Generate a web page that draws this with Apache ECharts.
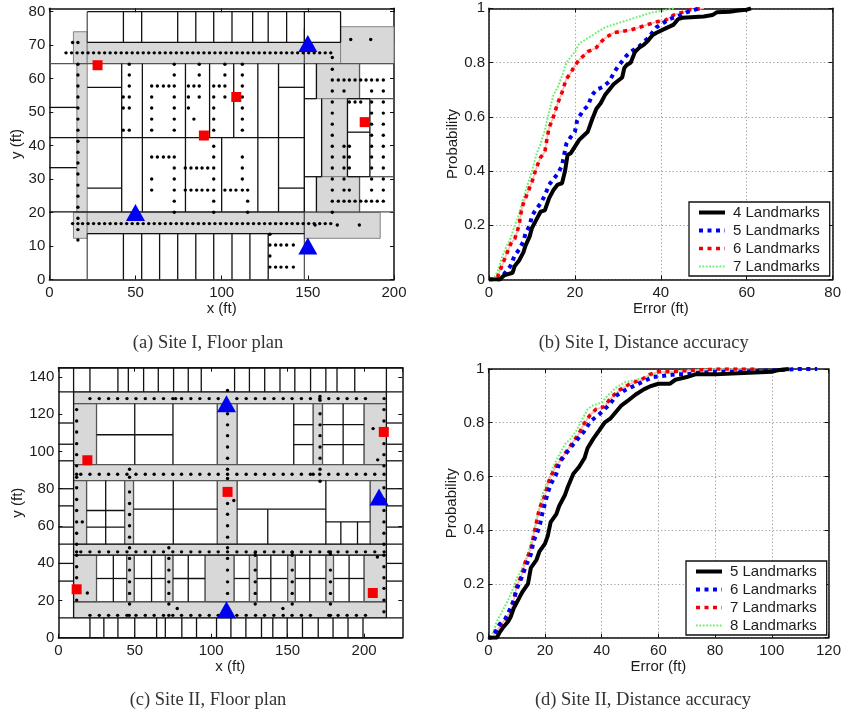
<!DOCTYPE html>
<html><head><meta charset="utf-8">
<style>html,body{margin:0;padding:0;background:#fff}#c{width:844px;height:710px}</style>
<script src="https://cdn.jsdelivr.net/npm/echarts@6/dist/echarts.min.js"></script>
</head><body><div id="c"></div>
<script>
// ---------- CDF curves, [error ft, probability]
const siteI_4 = [[0,0],[2.5,0],[3.5,.015],[5.5,.025],[6,.05],[7,.07],[8,.1],[8.5,.125],[9.5,.16],[10,.19],[11,.22],[12,.25],[13,.255],[14,.3],[15,.33],[16,.35],[17,.355],[17.7,.4],[18.3,.46],[19,.465],[20,.49],[21,.515],[22,.53],[23,.545],[24,.59],[25,.63],[26,.65],[27,.68],[28,.7],[29,.72],[31,.745],[31.5,.78],[32,.79],[33,.8],[34,.84],[35,.855],[36,.865],[37,.88],[38,.9],[39,.91],[41,.925],[43,.94],[44,.96],[45,.965],[47,.967],[50,.97],[52,.975],[53,.985],[56,.987],[58,.992],[60,.995],[61,1]];
const siteI_5 = [[0,0],[2.5,0],[4,.03],[5,.05],[6,.09],[7,.11],[8,.14],[8.5,.17],[9.5,.2],[10,.235],[11,.26],[12,.28],[13,.31],[14,.35],[15,.37],[16,.39],[17,.42],[17.5,.46],[18,.5],[19,.525],[20,.545],[20.5,.585],[21,.6],[22,.625],[23,.64],[24,.68],[25,.7],[26.5,.71],[28,.73],[29,.76],[30,.785],[31,.805],[32,.825],[33,.84],[35,.86],[36,.875],[37,.89],[38,.91],[39,.93],[40,.94],[41,.95],[42,.96],[44,.97],[46,.985],[48,.995],[49,1]];
const siteI_6 = [[0,0],[1,0],[2,.01],[3,.05],[4,.09],[5,.13],[6,.15],[7,.2],[7.5,.25],[8,.28],[9,.32],[10,.36],[11,.41],[12,.45],[13,.47],[13.5,.52],[14,.56],[15,.6],[16,.65],[17,.69],[18,.74],[19,.76],[20,.79],[21,.81],[22,.825],[23,.84],[25,.855],[26,.875],[27,.89],[29,.91],[31,.915],[33,.92],[35,.93],[37,.94],[39,.95],[41,.955],[43,.975],[45,.985],[47,.995],[50,1]];
const siteI_7 = [[0,0],[1,0],[2,.03],[3,.08],[4,.12],[5,.15],[6,.2],[7,.24],[8,.3],[9,.35],[10,.4],[11,.46],[12,.5],[13,.55],[14,.62],[15,.68],[16,.71],[17,.75],[18,.8],[19,.82],[20,.84],[21,.87],[22,.88],[23,.89],[25,.91],[27,.93],[30,.945],[33,.96],[35,.97],[38,.985],[40,.99],[43,1]];
const siteII_5 = [[0,0],[3,0],[4,.02],[5,.035],[7,.06],[8,.08],[9,.11],[10,.13],[11,.15],[12,.17],[14,.2],[15,.26],[17,.29],[18,.32],[20,.35],[21,.38],[22,.43],[24,.46],[25,.49],[27,.53],[28,.56],[30,.61],[32,.635],[34,.67],[35,.705],[37,.74],[39,.77],[41,.8],[43,.815],[45,.84],[47,.865],[49,.88],[52,.905],[55,.925],[57,.935],[60,.945],[64,.945],[66,.96],[70,.97],[73,.98],[80,.98],[90,.985],[100,.99],[102,.995],[106,1]];
const siteII_6 = [[0,0],[1,0],[3,.03],[4,.05],[6,.07],[7,.09],[9,.14],[10,.18],[12,.23],[13,.26],[15,.31],[16,.36],[18,.41],[19,.46],[20,.5],[21,.54],[22,.57],[24,.61],[25,.65],[27,.68],[30,.72],[32,.745],[34,.77],[36,.805],[39,.83],[41,.85],[43,.87],[45,.9],[48,.92],[52,.94],[55,.955],[58,.97],[62,.975],[66,.98],[70,.98],[73,.985],[80,.99],[90,.99],[100,.995],[110,1],[116,1]];
const siteII_7 = [[0,0],[1,0],[2,.01],[4,.04],[6,.07],[8,.1],[9,.14],[10,.19],[12,.24],[13,.28],[15,.33],[16,.38],[17,.43],[18,.48],[20,.53],[21,.57],[22,.6],[24,.64],[26,.67],[28,.7],[30,.73],[32,.76],[34,.8],[36,.83],[38,.85],[41,.86],[43,.89],[46,.92],[50,.945],[54,.96],[57,.98],[60,.99],[65,.99],[72,.995],[80,1],[95,1]];
const siteII_8 = [[0,0],[1,0],[2,.03],[3,.06],[4,.08],[5,.1],[6,.12],[7,.14],[9,.19],[10,.22],[12,.26],[14,.31],[16,.39],[17,.44],[18,.48],[19,.53],[21,.58],[23,.64],[25,.68],[27,.72],[29,.74],[31,.77],[33,.81],[35,.85],[37,.865],[40,.875],[42,.9],[45,.93],[48,.95],[52,.96],[56,.97],[60,.985],[70,.995],[80,1],[90,1]];

// ---------- Site I floor plan, in feet
const corridorsI = [[14,64.5,22,74],[16,20,22,64.5],[14,12.3,22,20],[22,64.5,149,70.8],[148,64.5,200,70.8],[169,64.5,200,75.5],[22,13.7,148,20],[148,12.3,192,20],[155,54,180,64.5],[158,30.7,173,54],[155,20,180,30.7]];
const wallsVI = [[70.8,80,43,53.6,74.5,85,95.4,106,118,127,137.7,148,169],[42.4,64.5,42,54,79,93,107,121,133,148],[20.2,42.4,42,54,79,100,121,133,148],[0,13.7,43,53.6,64,74.5,85,95.4,106,116.4,127],[54,64.5,155],[30.7,54,158,173,186],[20.2,30.7,155]];
const wallsHI = [[80,22,169],[70.8,22,169],[57.4,22,42],[57.4,133,148],[27.3,22,42],[27.3,133,148],[42.4,0,148],[51.4,0,16],[33.4,0,16],[20.2,0,148],[13.7,22,148],[54,148,155],[54,173,186],[30.7,148,158],[30.7,173,186],[44,173,186]];
const edgesVI = [[0,13.7,22,148],[70.8,80,22],[13.7,20,148],[54,64.5,148,180],[30.7,54,148],[20,30.7,148,180],[64.5,75,148]];
const edgesHI = [[64.5,0,200],[54,180,200],[30.7,186,200],[20.2,148,200]];
const dotRowsI = [
 [67.7,9.7,12.9,16.1,19.3,22.5,25.7,28.9,32.1,35.3,38.5,41.7,44.9,48.1,51.3,54.5,57.7,60.9,64.1,67.3,70.5,73.7,76.9,80.1,83.3,86.5,89.7,92.9,96.1,99.3,102.5,105.7,108.9,112.1,115.3,118.5,121.7,124.9,128.1,131.3,134.5,137.7,140.9,144.1,147.3,150.5,153.7,156.9,160.1,163.3],
 [70.8,13.5,16.6],[71.7,174.9,186.5],
 [66.3,164.2],[64.3,46.4,72.5,87,101.9,112],[62.8,164.2],
 [61.1,46.4,72.5,87,101.9,112],
 [59.6,164.2,167.7,171,174.1,177.4,180.7,183.8,187,190.3,193.8],
 [57.8,46.4,59.4,62.7,66.2,69.4,72.5,80.7,83.9,87,95.4,98.6,101.9,112],
 [56.3,164.2,171,187,193.8],
 [54.5,42.9,46.4,59.4,72.5,80.7,87,95.4,101.9,112],
 [53,164.2,174.1,177.4,180.7,187,193.8],
 [51.2,42.9,46.4,59.4,72.5,80.7,95.4,112],
 [49.7,164.2,187,193.8],
 [47.9,59.4,72.5,83.9,95.4,112],
 [46.4,164.2,187,193.8],
 [44.6,42.9,46.4,59.4,72.5,95.4,112],
 [43.1,164.2,187,193.8],
 [39.8,95.4,164.2,171,174.1,187,193.8],
 [36.6,59.4,62.7,66.2,69.4,72.5,95.4,112,164.2,171,174.1,187,193.8],
 [33.3,72.5,78.9,82.2,85.5,88.6,91.9,95.4,112,164.2,171,174.1,187,193.8],
 [30,59.4,72.5,95.4,112,164.2,171,187,193.8],
 [26.7,59.4,72.5,78.9,82.2,85.5,88.6,91.9,95.4,101.9,105.2,108.3,112,115.1,164.2,171,174.1,187,193.8],
 [23.4,72.5,95.4,115.1,164.2,167.7,171,174.1,177.4,180.7,183.8,187,190.3,193.8],
 [20.1,72.5,95.4,115.1,164.2],
 [16.7,13.5,19.3,22.5,25.7,28.9,32.1,35.3,38.5,41.7,44.9,48.1,51.3,54.5,57.7,60.9,64.1,67.3,70.5,73.7,76.9,80.1,83.3,86.5,89.7,92.9,96.1,99.3,102.5,105.7,108.9,112.1,115.3,118.5,121.7,124.9,128.1,131.3,134.5,137.7,140.9,144.1,147.3,150.5,153.7,156.9,160.1,163.3],
 [16.3,154.2,167.1,179.9],
 [13.5,128],[10.3,128,131.3,134.4,137.7,141.6],[7,128],[3.7,128,131.3,134.4,137.7,141.6]
];
const dotColsI = [[16.6,64.3,61.1,57.8,54.5,51.2,47.9,44.6,41.3,38,34.8,31.5,28.2,24.9,21.6,18.3,16.7,14.9,11.8]];
const anchorsI = [[150,70.5],[50,20],[150,10]];
const samplesI = [[28,64],[108.5,54.5],[89.7,43],[183,47]];

// ---------- Site II floor plan, in feet
const corridorsII = [[10,125.7,214.6,132],[10,84.4,214.6,93],[10,44.3,214.6,50.2],[10,10.7,214.6,19.3],[10,93,25,125.7],[104,93,117,125.7],[166.7,93,172.8,125.7],[200,93,214.6,125.7],[10,50.2,18.5,84.4],[43.4,50.2,49.2,84.4],[104,50.2,117,84.4],[204,50.2,214.6,84.4],[10,19.3,25,44.3],[44.7,19.3,49.7,44.3],[70,19.3,75,44.3],[96,19.3,115,44.3],[125,19.3,130,44.3],[150,19.3,155,44.3],[175,19.3,180,44.3],[200,19.3,214.6,44.3]];
const wallsVII = [[132,145,20.7,39,45.8,55.8,65.4,75.4,85,93.5,115.3,125,135,145,154.7,165,175,182.3,193.9],[0,10.7,20.7,29.8,39,50,64.3,70,80.8,90.4,103.5,112.9,122.7,132.9,140.3,149.7,159.7,170,179.7,189.5,199.3],[93,125.7,50,75,154],[50.2,84.4,31,75.2,175],[50.2,69,137],[50.2,62.2,184.8,195.7],[19.3,44.3,36,61,85,139,164.5,190.2],[93,125.7,186.3],[10.7,145,10,214.6]];
const wallsHII = [[145,0,225],[132,0,225],[10.7,0,225],[50.2,0,225],[44.3,10,214.6],[0,0,225],[109,25,75],[114.4,154,166.7],[103.7,154,166.7],[114.4,172.8,200],[103.7,172.8,200],[69,49.2,104],[69,117,175],[68.3,18.5,43.4],[59.4,18.5,43.4],[62.2,175,204],[31.8,25,44.7],[31.8,49.7,70],[31.8,75,96],[31.8,115,125],[31.8,130,150],[31.8,155,175],[31.8,180,200],
 [115.3,0,10],[103.9,0,10],[95,0,10],[80,0,10],[70.8,0,10],[59.4,0,10],[39.9,0,10],[30.4,0,10],[115.3,214.6,225],[103.9,214.6,225],[95,214.6,225],[80,214.6,225],[70.8,214.6,225],[59.4,214.6,225],[39.9,214.6,225],[30.4,214.6,225]];
const edgesVII = [[93,125.7,25,104,117,166.7,172.8,200],[50.2,84.4,18.5,43.4,49.2,104,117,204],[19.3,44.3,25,44.7,49.7,70,75,96,115,125,130,150,155,175,180,200]];
const edgesHII = [[125.7,10,214.6],[93,10,214.6],[84.4,10,214.6],[19.3,10,214.6]];
const dotRowsII = [
 [128.4,20.7,26.8,32.9,38.8,44.9,50.8,56.9,62.7,68.8,74.9,76.7,80.6,86.7,92.6,98.7,104.6,116.8,122.9,129,134.9,141,147.1,152.9,159,164.9,171,176.9,183,188.9,195,200.9,213.1],
 [87.8,12,14.7,20.7,26.8,32.9,38.8,44.9,50.8,56.9,62.7,68.8,74.9,80.6,86.7,92.6,98.7,104.6,110.7,116.8,122.9,129,134.9,141,147.1,152.9,159,164.9,166.7,171,176.9,183,188.9,195,200.9,207,213.1],
 [46.1,12,14.7,20.7,26.8,32.9,38.8,44.9,50.8,56.9,62.7,68.8,74.9,80.6,86.7,92.6,98.7,104.6,110.7,116.8,122.9,129,134.9,141,147.1,152.9,159,164.9,171,176.9,183,188.9,195,200.9,207,213.1],
 [12,20.7,26.8,32.9,38.8,44.9,46.4,50.8,56.9,62.7,68.8,72.3,74.9,80.6,86.7,92.6,98.7,104.6,116.8,122.9,129,134.9,141,147.1,152.9,159,164.9,176.9,178,183,188.9,195,200.9]
];
const dotColsII = [
 [12,122.5,116.4,110.5,104.2,98.3,92.3,86.2,80.5,74.2,68.3,62.2,56.1,50.2,44.3,38.1,32.2,26.5,20.2],
 [110.7,132.8,120.3,114.3,108.5,102.4,96.4,90.5,85.5,72.1,66.3,60.1,54,48.3,42.6,36.3,30,23.8],
 [46.6,90.5,86.2,78.3,72.1,66.2,60.1,54,48.3,42.6,36.3,30,23.8,18.1],
 [72.3,48.3,42.6,36.3,30,23.8,18.1],
 [171.2,129.6,127.5,120.3,114.3,108.5,102.4,96.4,90.5,84],
 [213,122.5,116.4,104.2,98.3,92.3,80.5,74.2,68.3,62.2,56.1,50.2,44.3,38.1,32.2,26.5,20.2,13.9],
 [128.8,45.8,44.3,36.3,30,23.8,18.1],
 [153,45.8,44.3,36.3,30,23.8,18.1],
 [178,46.1,44.9,36.3,30,23.8,18.1]
];
const extraDotsII = [[205.9,112.3],[208.9,95.5],[208.7,43.3],[19,24],[15.7,62.2],[114.8,73.7],[77.8,15.7],[146.9,15.7]];
const anchorsII = [[110,125.7],[110,15],[209.8,75.5]];
const samplesII = [[212.9,110.5],[19,95.3],[110.7,78.3],[12,26],[205.7,24]];

// ---------- axes
const probTicks = 0.2;
const captions = ['(a) Site I, Floor plan','(b) Site I, Distance accuracy','(c) Site II, Floor plan','(d) Site II, Distance accuracy'];
const legendI = ['4 Landmarks','5 Landmarks','6 Landmarks','7 Landmarks'];
const legendII = ['5 Landmarks','6 Landmarks','7 Landmarks','8 Landmarks'];

// ---------- build
const sans = '"Liberation Sans",Arial,sans-serif', ink = '#1c1c1c';
const grids = [
 {left:49.3,top:8.3,width:344.7,height:271.2},
 {left:489,top:8.3,width:344.3,height:271.2},
 {left:58.3,top:367.7,width:344,height:270},
 {left:488.3,top:369,width:340.7,height:268.7}
];
const axisSpec = [
 {x:[200,50],y:[81,10],xn:'x (ft)',yn:'y (ft)',yg:19},
 {x:[80,20],y:[1,probTicks],xn:'Error (ft)',yn:'Probability',yg:26,grid:true},
 {x:[225,50],y:[145,20],xn:'x (ft)',yn:'y (ft)',yg:27},
 {x:[120,20],y:[1,probTicks],xn:'Error (ft)',yn:'Probability',yg:26,grid:true}
];
const xAxis=[], yAxis=[];
const gridLine = {show:true,lineStyle:{color:'#9a9a9a',type:[1.2,2.4],width:1}};
axisSpec.forEach((s,i)=>{
 const line={show:true,onZero:false,lineStyle:{color:'#111',width:1.5}};
 const tick={show:true,inside:true,length:4,lineStyle:{color:'#111',width:1}};
 xAxis.push({gridIndex:i,type:'value',position:'bottom',min:0,max:s.x[0],interval:s.x[1],axisLine:line,axisTick:tick,
  splitLine:s.grid?gridLine:{show:false},name:s.xn,nameLocation:'middle',nameGap:21,nameTextStyle:{fontFamily:sans,fontSize:15,color:ink,verticalAlign:'top'},
  axisLabel:{fontFamily:sans,fontSize:15,color:ink,margin:6,showMaxLabel:s.x[0]%s.x[1]===0}});
 xAxis.push({gridIndex:i,type:'value',position:'top',min:0,max:s.x[0],interval:s.x[1],axisLine:line,axisTick:tick,splitLine:{show:false},axisLabel:{show:false}});
 yAxis.push({gridIndex:i,type:'value',position:'left',min:0,max:s.y[0],interval:s.y[1],axisLine:line,axisTick:tick,
  splitLine:s.grid?gridLine:{show:false},name:s.yn,nameLocation:'middle',nameGap:s.yg,nameRotate:90,nameTextStyle:{fontFamily:sans,fontSize:15,color:ink},
  axisLabel:{fontFamily:sans,fontSize:15,color:ink,margin:4,showMaxLabel:s.y[0]===1}});
 yAxis.push({gridIndex:i,type:'value',position:'right',min:0,max:s.y[0],interval:s.y[1],axisLine:line,axisTick:tick,splitLine:{show:false},axisLabel:{show:false}});
});
const expandV = a => a.flatMap(r => r.slice(2).map(x => [x,r[0],x,r[1]]));
const expandH = a => a.map(r => [r[1],r[0],r[2],r[0]]);
const fromRows = a => a.flatMap(r => r.slice(1).map(x => [x,r[0]]));
const fromCols = a => a.flatMap(r => r.slice(1).map(y => [r[0],y]));
const series=[];
function rects(i,name,data,fill,stroke){
 series.push({type:'custom',name,xAxisIndex:2*i,yAxisIndex:2*i,data,encode:{x:[0,2],y:[1,3]},silent:true,
  renderItem:(p,api)=>{const a=api.coord([api.value(0),api.value(1)]),b=api.coord([api.value(2),api.value(3)]);
   return {type:'rect',shape:{x:Math.min(a[0],b[0]),y:Math.min(a[1],b[1]),width:Math.abs(a[0]-b[0]),height:Math.abs(a[1]-b[1])},style:{fill,stroke,lineWidth:0.9}};}});
}
function segs(i,name,data,stroke,w){
 series.push({type:'custom',name,xAxisIndex:2*i,yAxisIndex:2*i,data,encode:{x:[0,2],y:[1,3]},silent:true,
  renderItem:(p,api)=>{const a=api.coord([api.value(0),api.value(1)]),b=api.coord([api.value(2),api.value(3)]);
   return {type:'line',shape:{x1:a[0],y1:a[1],x2:b[0],y2:b[1]},style:{stroke,lineWidth:w}};}});
}
function pts(i,name,data,symbol,size,color){
 series.push({type:'scatter',name,xAxisIndex:2*i,yAxisIndex:2*i,data,symbol,symbolSize:size,itemStyle:{color,opacity:1},silent:true});
}
function plan(i,tag,corr,wv,wh,ev,eh,dots,anch,samp){
 rects(i,tag+' corridors',corr,'#d8d8d8','#777');
 segs(i,tag+' edges',expandV(ev).concat(expandH(eh)),'#555',1.3);
 segs(i,tag+' walls',expandV(wv).concat(expandH(wh)),'#111',1.3);
 pts(i,tag+' survey points',dots,'circle',3.4,'#000');
 pts(i,tag+' landmarks',anch,'triangle',[19,17],'#0000f0');
 pts(i,tag+' samples',samp,'rect',[10,10],'#f40000');
}
plan(0,'Site I',corridorsI,wallsVI,wallsHI,edgesVI,edgesHI,fromRows(dotRowsI).concat(fromCols(dotColsI)),anchorsI,samplesI);
plan(2,'Site II',corridorsII,wallsVII,wallsHII,edgesVII,edgesHII,fromRows(dotRowsII).concat(fromCols(dotColsII),extraDotsII),anchorsII,samplesII);
const styles = [
 {color:'#000',width:4,type:'solid'},
 {color:'#0000f0',width:4,type:[4,4.5]},
 {color:'#f00000',width:3.6,type:[4,4.5]},
 {color:'#6cf06c',width:2,type:[1.8,1.6]}
];
function curves(i,prefix,names,data){
 names.forEach((n,k)=>{
  if(k===2) series.push({type:'line',name:prefix+n+' trace',xAxisIndex:2*i,yAxisIndex:2*i,data:data[k],symbol:'none',clip:true,silent:true,
   lineStyle:{color:'#ffb4b4',width:1.6},z:5-k/10});
  series.push({type:'line',name:prefix+n,xAxisIndex:2*i,yAxisIndex:2*i,data:data[k],symbol:'none',clip:true,silent:true,
   itemStyle:{color:styles[k].color},lineStyle:styles[k],z:5-k/10});
 });
}
curves(1,'b ',legendI,[siteI_4,siteI_5,siteI_6,siteI_7]);
curves(3,'d ',legendII,[siteII_5,siteII_6,siteII_7,siteII_8]);
const legendBase = {orient:'vertical',itemWidth:26,itemHeight:14,itemGap:3,padding:[3,10,2,8],backgroundColor:'#fff',borderColor:'#111',borderWidth:1.3,
 itemStyle:{color:'rgba(0,0,0,0)',borderWidth:0,opacity:0},lineStyle:{width:'inherit'},
 textStyle:{fontFamily:sans,fontSize:15,color:ink,padding:[0,0,0,3]},selectedMode:false,formatter:n=>n.slice(2),z:20};
const capPos = [[208,334],[643.7,334],[208,691],[643,691]];
const chart = echarts.init(document.getElementById('c'),null,{renderer:'canvas',width:844,height:710});
chart.setOption({
 animation:false,backgroundColor:'#fff',
 grid:grids.map(g=>Object.assign({containLabel:false},g)),
 xAxis,yAxis,series,
 legend:[
  Object.assign({},legendBase,{left:689,top:202,data:legendI.map(n=>'b '+n)}),
  Object.assign({},legendBase,{left:686,top:561,data:legendII.map(n=>'d '+n)})
 ],
 title:captions.map((t,i)=>({text:t,left:capPos[i][0],top:capPos[i][1],textAlign:'center',padding:0,
  textStyle:{fontFamily:'"Liberation Serif",Times,serif',fontSize:18.5,fontWeight:'normal',color:'#333'}}))
});
</script></body></html>
